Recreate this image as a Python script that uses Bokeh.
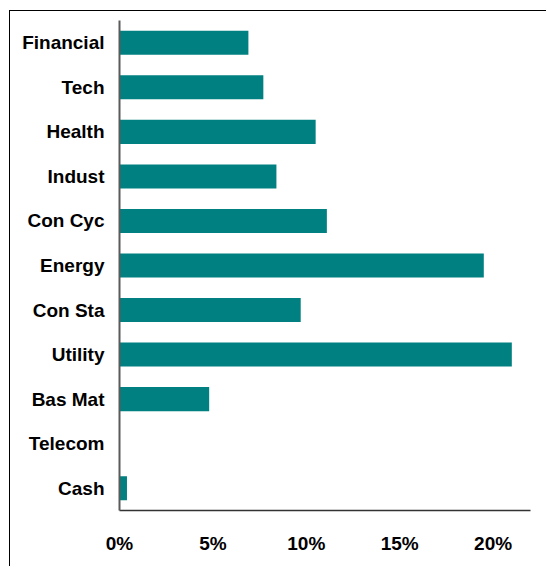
from bokeh.plotting import figure
from bokeh.models import FixedTicker
from bokeh.embed import file_html
from bokeh.resources import INLINE

categories = ["Financial", "Tech", "Health", "Indust", "Con Cyc", "Energy",
              "Con Sta", "Utility", "Bas Mat", "Telecom", "Cash"]
weights = [6.9, 7.7, 10.5, 8.4, 11.1, 19.5, 9.7, 21.0, 4.8, 0.0, 0.4]
x_ticks = [0, 5, 10, 15, 20]
x_tick_labels = ["0%", "5%", "10%", "15%", "20%"]

factors = list(reversed(categories))

# outer border at (9,10); canvas inside it
p = figure(width=536, height=555, y_range=factors, x_range=(0, 22),
           output_backend="svg", toolbar_location=None, title=None,
           min_border_left=109, min_border_right=17,
           min_border_top=9, min_border_bottom=57)
p.margin = (10, 0, 0, 9)
p.styles = {"border-left": "1.5px solid black", "border-top": "1.5px solid black",
            "box-sizing": "content-box", "overflow": "hidden"}

p.hbar(y=categories, right=weights, left=0, height=0.54,
       fill_color="#008080", line_color=None)

p.outline_line_color = None
p.grid.visible = False
p.background_fill_color = "white"
p.border_fill_color = "white"

font = "Liberation Sans"
p.yaxis.axis_line_color = "#5a5a5a"
p.yaxis.axis_line_width = 2
p.yaxis.major_tick_line_color = None
p.yaxis.minor_tick_line_color = None
p.yaxis.major_tick_out = 0
p.yaxis.major_label_standoff = 15
p.yaxis.major_label_text_font = font
p.yaxis.major_label_text_font_style = "bold"
p.yaxis.major_label_text_font_size = "19px"
p.yaxis.major_label_text_color = "black"

p.xaxis.ticker = FixedTicker(ticks=x_ticks)
p.xaxis.major_label_overrides = {t: l for t, l in zip(x_ticks, x_tick_labels)}
p.xaxis.axis_line_color = "#333333"
p.xaxis.axis_line_width = 1.5
p.xaxis.major_tick_line_color = None
p.xaxis.minor_tick_line_color = None
p.xaxis.major_tick_out = 0
p.xaxis.major_label_standoff = 22
p.xaxis.major_label_text_font = font
p.xaxis.major_label_text_font_style = "bold"
p.xaxis.major_label_text_font_size = "19px"
p.xaxis.major_label_text_color = "black"

open("out.html", "w").write(file_html(p, INLINE))
